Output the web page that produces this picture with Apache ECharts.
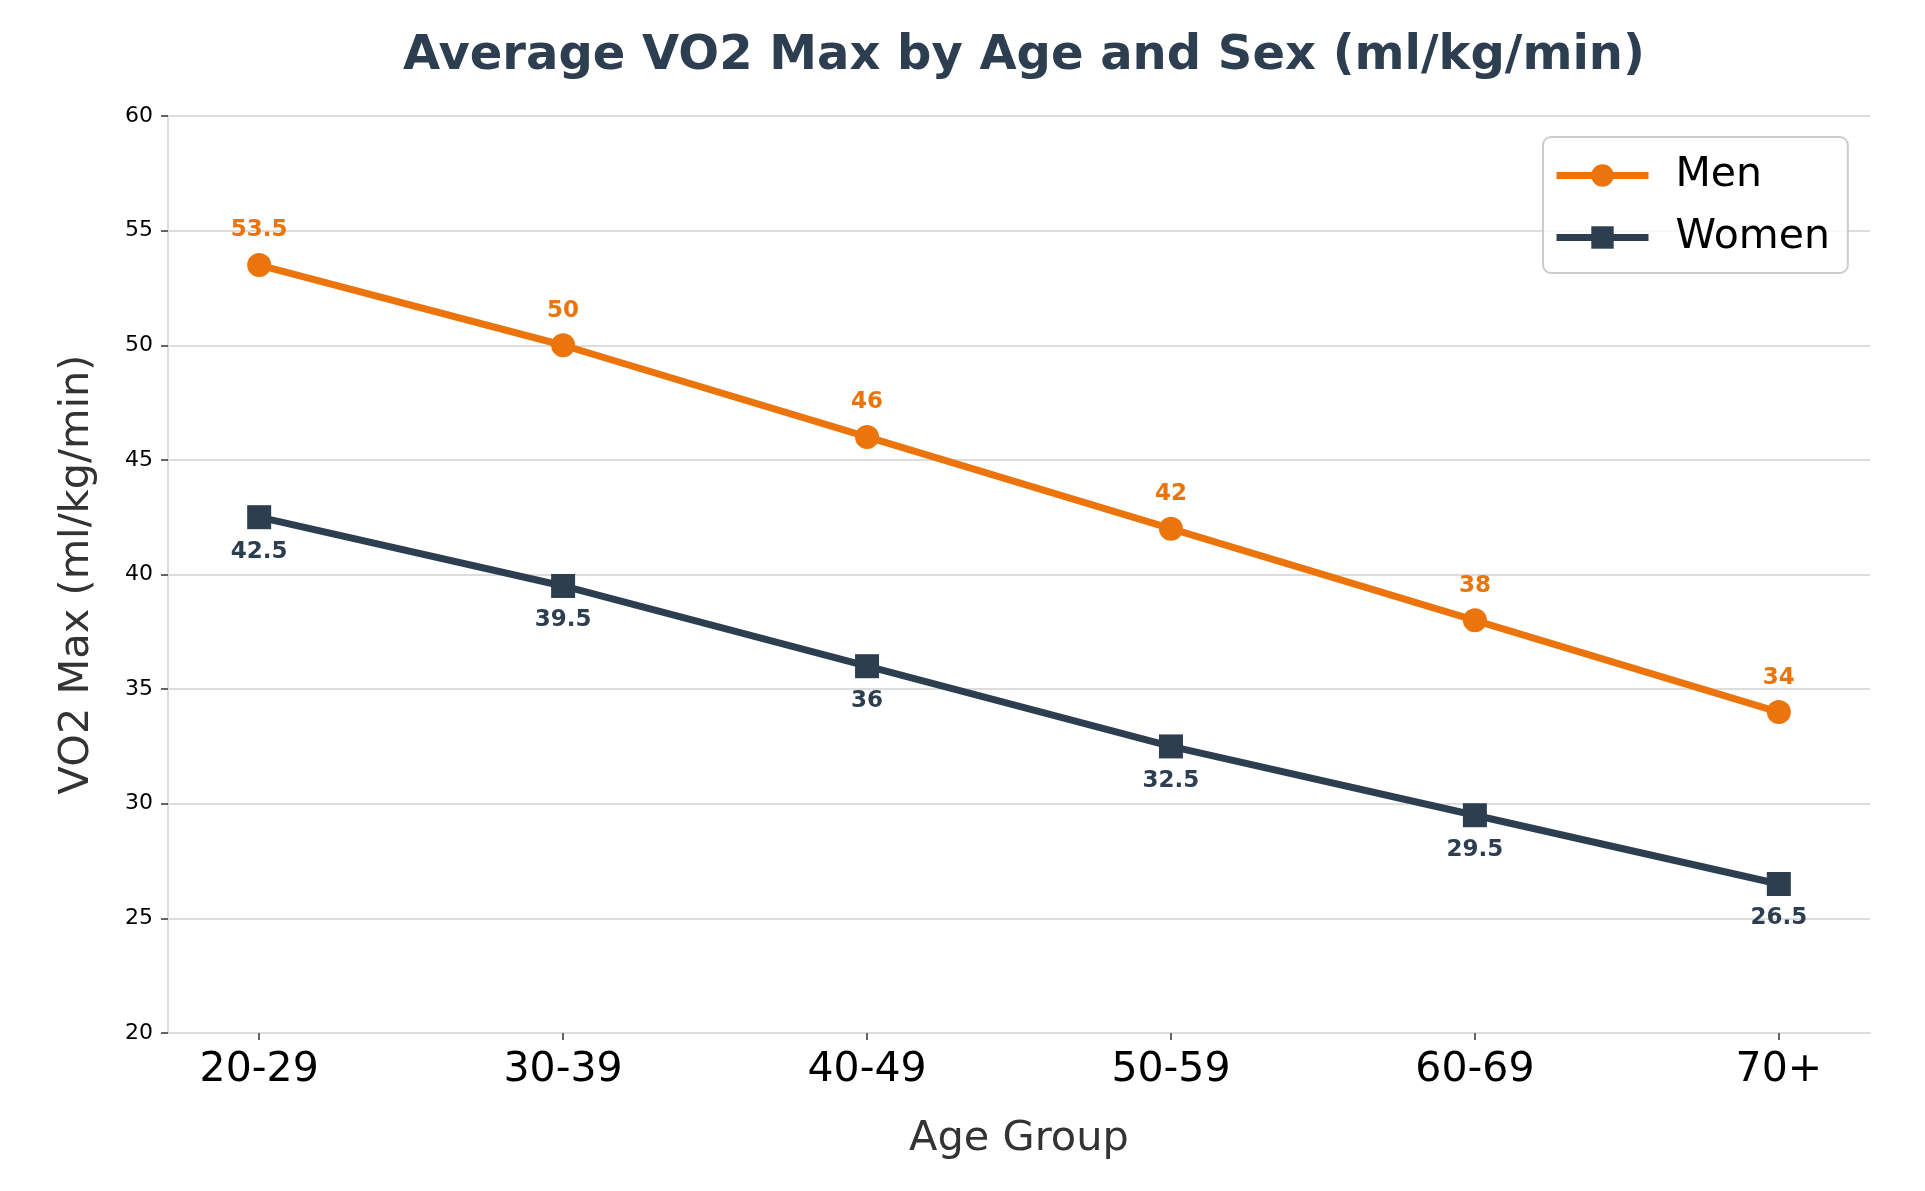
<!DOCTYPE html>
<html>
<head>
<meta charset="utf-8">
<title>Average VO2 Max by Age and Sex</title>
<script src="https://cdn.jsdelivr.net/npm/echarts@6/dist/echarts.min.js"></script>
<style>
	html, body { margin: 0; padding: 0; background: #fff; }
	#vo2-chart { width: 1925px; height: 1191px; }
</style>
</head>
<body>
<div id="vo2-chart"></div>
<script>
// 数据
var ageGroups = ["20-29", "30-39", "40-49", "50-59", "60-69", "70+"];
var menValues = [53.5, 50, 46, 42, 38, 34];
var womenValues = [42.5, 39.5, 36, 32.5, 29.5, 26.5];
var yTicks = [20, 25, 30, 35, 40, 45, 50, 55, 60];

var MEN_COLOR = "#EB750C";
var WOMEN_COLOR = "#2C3E50";
var FONT = "DejaVu Sans";

// 把类别下标和数值组成点
function toPoints(values) {
	var pts = [];
	for (var i = 0; i < values.length; i++) {
		pts.push([i, values[i]]);
	}
	return pts;
}

var catIndex = [];
for (var i = 0; i < ageGroups.length; i++) {
	catIndex.push(i);
}

var myChart = echarts.init(document.getElementById("vo2-chart"), null, { renderer: "canvas" });

var option = {
	backgroundColor: "#ffffff",
	animation: false,
	textStyle: { fontFamily: FONT },
	title: {
		text: "Average VO2 Max by Age and Sex (ml/kg/min)",
		left: 1019,
		top: 28,
		textAlign: "center",
		textStyle: { fontFamily: FONT, fontSize: 48, fontWeight: "bold", color: WOMEN_COLOR }
	},
	grid: { left: 168, right: 55, top: 116, bottom: 158, containLabel: false },
	legend: {
		orient: "vertical",
		left: 1543,
		top: 137,
		padding: [18, 18, 15, 10],
		itemGap: 21,
		itemWidth: 92,
		itemHeight: 28,
		borderColor: "#cccccc",
		borderWidth: 2,
		borderRadius: 8,
		backgroundColor: "rgba(255,255,255,0.8)",
		lineStyle: { width: 7 },
		textStyle: { fontFamily: FONT, fontSize: 41, color: "#000", padding: [0, 0, 0, 22] },
		data: ["Men", "Women"]
	},
	xAxis: {
		type: "value",
		min: -0.3,
		max: 5.3,
		name: "Age Group",
		nameLocation: "middle",
		nameGap: 85,
		nameTextStyle: { fontFamily: FONT, fontSize: 41.5, color: "#333333" },
		axisLine: { show: true, onZero: false, lineStyle: { color: "#dddddd", width: 2 } },
		axisTick: { show: true, length: 7, customValues: catIndex, lineStyle: { color: "#333", width: 1.5 } },
		axisLabel: {
			customValues: catIndex,
			margin: 17,
			fontFamily: FONT,
			fontSize: 41,
			color: "#000",
			formatter: function(v) { return ageGroups[Math.round(v)]; }
		},
		splitLine: { show: false }
	},
	yAxis: {
		type: "value",
		min: 20,
		max: 60,
		interval: 5,
		name: "VO2 Max (ml/kg/min)",
		nameLocation: "middle",
		nameGap: 70,
		nameTextStyle: { fontFamily: FONT, fontSize: 41.5, color: "#333333" },
		axisLine: { show: true, onZero: false, lineStyle: { color: "#dddddd", width: 2 } },
		axisTick: { show: true, length: 7, lineStyle: { color: "#333", width: 1.5 } },
		axisLabel: { margin: 15, fontFamily: FONT, fontSize: 22, color: "#000" },
		splitLine: { show: true, lineStyle: { color: "#dddddd", width: 2 } }
	},
	series: [
		{
			name: "Men",
			type: "line",
			data: toPoints(menValues),
			symbol: "circle",
			symbolSize: 24,
			lineStyle: { color: MEN_COLOR, width: 7 },
			itemStyle: { color: MEN_COLOR },
			label: {
				show: true,
				position: "top",
				distance: 11,
				fontFamily: FONT,
				fontSize: 23,
				fontWeight: "bold",
				color: MEN_COLOR
			},
			z: 3
		},
		{
			name: "Women",
			type: "line",
			data: toPoints(womenValues),
			symbol: "rect",
			symbolSize: 24,
			lineStyle: { color: WOMEN_COLOR, width: 7 },
			itemStyle: { color: WOMEN_COLOR },
			label: {
				show: true,
				position: "bottom",
				distance: 11,
				fontFamily: FONT,
				fontSize: 23,
				fontWeight: "bold",
				color: WOMEN_COLOR
			},
			z: 3
		}
	]
};

myChart.setOption(option);
</script>
</body>
</html>
